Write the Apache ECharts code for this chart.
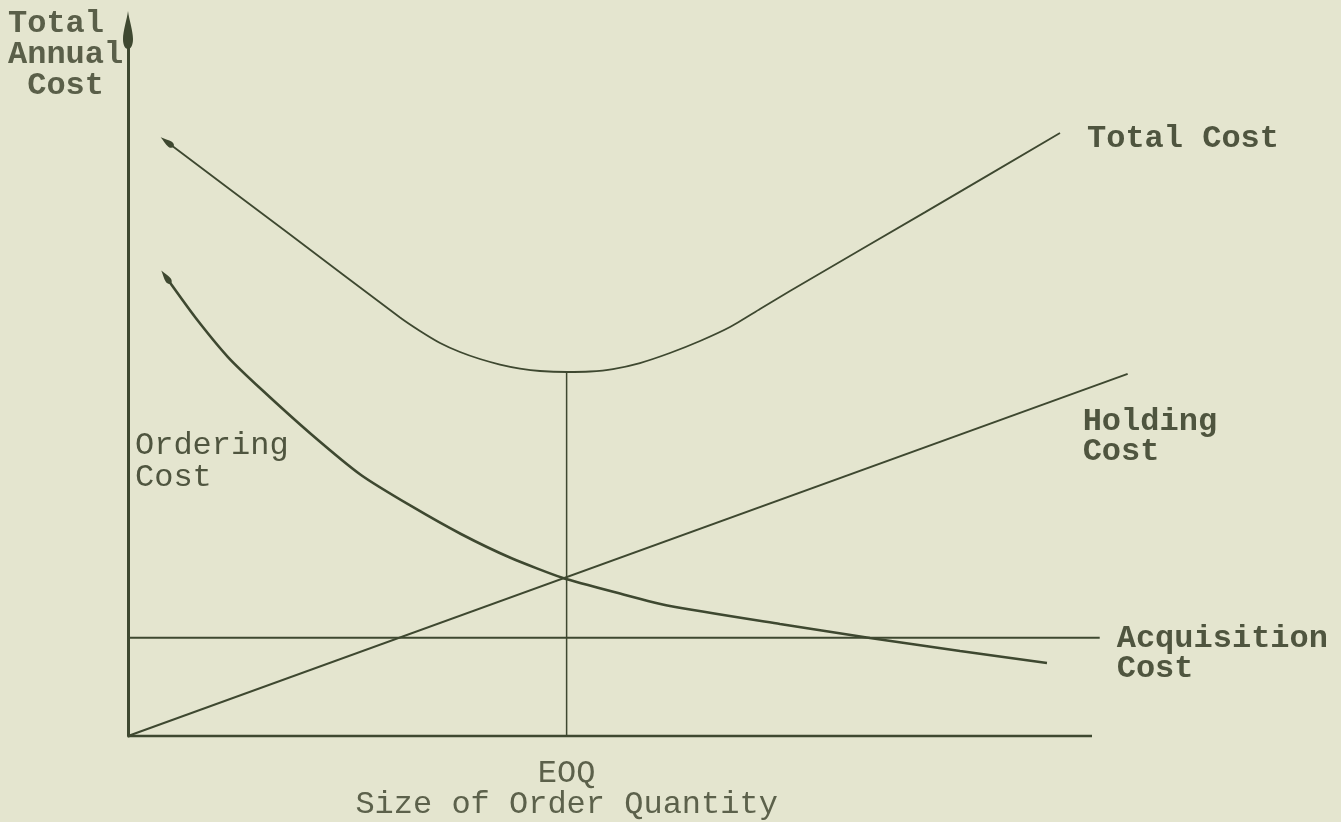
<!DOCTYPE html>
<html>
<head>
<meta charset="utf-8">
<title>EOQ cost curves</title>
<script src="https://cdn.jsdelivr.net/npm/echarts@6/dist/echarts.min.js"></script>
<style>
  html, body { margin: 0; padding: 0; background: #e4e5cf; }
  #chart { width: 1341px; height: 822px; }
</style>
</head>
<body>
<div id="chart"></div>
<script>
// values (x: order size, axis drawn 0-100; y: annual cost 0-100)
const totalCost = [
  [4.05, 84.14], [16.5, 71.34], [28.22, 59.28], [30.29, 57.37], [32.37, 55.67],
  [34.44, 54.39], [36.51, 53.4], [38.59, 52.62], [40.66, 52.05], [42.74, 51.7],
  [45.54, 51.56], [47.93, 51.63], [50.31, 51.98], [53.11, 52.83], [56.22, 54.25],
  [59.34, 55.95], [62.45, 57.93], [65.56, 60.48], [68.67, 63.03], [82.7, 74.2],
  [96.68, 85.41]
]
const orderingCost = [
  [3.94, 65.01], [6.95, 59.35], [10.37, 53.68], [13.8, 49.15], [18.98, 42.78],
  [24.17, 36.97], [29.36, 32.58], [34.54, 28.61], [39.73, 25.21], [45.12, 22.38],
  [51.04, 20.18], [56.22, 18.41], [67.63, 15.86], [76.97, 13.88], [86.31, 12.04],
  [95.33, 10.34]
]
const holdingCost = [[0, 0], [103.7, 51.3]]
const acquisitionCost = [[0, 13.9], [100.8, 13.9]]
const eoqLine = [[45.5, 0], [45.5, 51.56]]
const xAxisLine = [[0, 0], [100, 0]]
const eoqTick = [45.5]

const ink = "#3e4830"
const textInk = "#4f553f"
const font = "'Liberation Mono', 'Courier New', monospace"
// hand-drawn teardrop arrowhead, tip up
const teardrop = "path://M5,0 C6,8 10,20 10,28 C10,34 8,38 5,38 C2,38 0,34 0,28 C0,20 4,8 5,0 Z"

const chart = echarts.init(document.getElementById("chart"))

function lineSeries(data, width, extra) {
  return Object.assign({
    type: "line",
    data: data,
    symbol: "none",
    clip: false,
    silent: true,
    lineStyle: { color: ink, width: width },
    itemStyle: { color: ink }
  }, extra || {})
}

// first point of a curve gets the little arrowhead
function withStartArrow(data, rotate) {
  return data.map((p, i) => i === 0
    ? { value: p, symbol: teardrop, symbolSize: [6, 16], symbolRotate: rotate }
    : p)
}

function endText(text, distance, offset) {
  return {
    show: true,
    formatter: text,
    distance: distance,
    offset: offset,
    align: "left",
    verticalAlign: "middle",
    color: textInk,
    fontFamily: font,
    fontWeight: "bold",
    fontSize: 32,
    lineHeight: 30
  }
}

chart.setOption({
  backgroundColor: "#e4e5cf",
  animation: false,
  grid: { left: 128, right: 210.44, top: 30, bottom: 86 },
  xAxis: {
    type: "value",
    min: 0,
    max: 104,
    splitLine: { show: false },
    axisTick: { show: false },
    axisLine: { show: false },
    axisLabel: {
      customValues: eoqTick,
      formatter: () => "EOQ\nSize of Order Quantity",
      margin: 22,
      color: "#5c614b",
      fontFamily: font,
      fontSize: 32,
      lineHeight: 31
    }
  },
  yAxis: {
    type: "value",
    min: 0,
    max: 100,
    splitLine: { show: false },
    axisTick: { show: false },
    axisLabel: { show: false },
    axisLine: {
      lineStyle: { color: ink, width: 3 },
      symbol: ["none", teardrop],
      symbolSize: [10, 38]
    }
  },
  graphic: [
    {
      type: "text", left: 8, top: 8,
      style: { text: "Total\nAnnual\n Cost", fill: "#5a5f49", font: "bold 32px " + font, lineHeight: 31 }
    },
    {
      type: "text", left: 135, top: 430,
      style: { text: "Ordering\nCost", fill: textInk, font: "32px " + font, lineHeight: 32 }
    }
  ],
  series: [
    lineSeries(xAxisLine, 2.5),
    lineSeries(withStartArrow(totalCost, 53), 1.8, {
      smooth: 0.2, showSymbol: true,
      endLabel: endText("Total Cost", 27, [0, 6])
    }),
    lineSeries(withStartArrow(orderingCost, 36), 2.6, {
      smooth: 0.2, showSymbol: true
    }),
    lineSeries(holdingCost, 2, { endLabel: endText("Holding\nCost", 5, [-50, 63]) }),
    lineSeries(acquisitionCost, 2, { endLabel: endText("Acquisition\nCost", 17, [0, 16]) }),
    lineSeries(eoqLine, 1.5)
  ]
})
</script>
</body>
</html>
